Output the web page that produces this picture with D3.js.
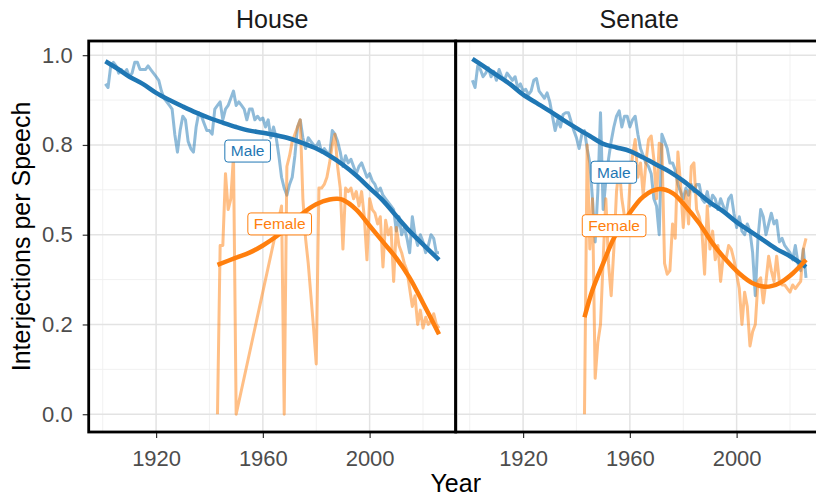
<!DOCTYPE html>
<html>
<head>
<meta charset="utf-8">
<script src="https://d3js.org/d3.v7.min.js"></script>
<style>
  body { margin: 0; background: #fff; }
  svg { display: block; font-family: 'Liberation Sans', Arial, sans-serif; }
</style>
</head>
<body>
<div id="viz"></div>
<script>
var chambers = ['House', 'Senate'];
var genders = ['Male', 'Female'];
var genderColors = ['#1f77b4', '#ff7f0e'];

var maleYears = d3.range(1901, 2027);
var houseFemaleYears = d3.range(1943, 1951).concat(d3.range(1967, 2027));
var senateFemaleYears = d3.range(1943, 2027);

var houseMale = [
  .92, .91, .97, .98, .97, .95, .96, .95, .96, .94,
  .95, .98, .98, .96, .96, .96, .97, .96, .95, .94,
  .93, .90, .88, .87, .86, .85, .78, .73, .79, .83,
  .82, .76, .74, .73, .80, .84, .83, .81, .79, .79,
  .78, .85, .86, .87, .82, .85, .86, .88, .90, .86,
  .87, .86, .85, .82, .85, .85, .82, .83, .82, .825,
  .80, .82, .77, .80, .77, .72, .66, .63, .61, .64,
  .66, .72, .80, .82, .77, .74, .77, .76, .75, .745,
  .76, .73, .74, .73, .72, .79, .78, .76, .73, .69,
  .72, .70, .71, .69, .67, .69, .70, .68, .66, .67,
  .65, .64, .62, .63, .61, .60, .59, .58, .57, .51,
  .55, .50, .52, .49, .45, .55, .50, .47, .50, .48,
  .45, .47, .50, .49, .45, .45
];

var houseFemale = [
  0, .47, .47, .67, .57, .60, .72, 0,
  .58, 0, .69, .72, .76, .78, .80, .82, .60, .49,
  .42, .33, .24, .14, .63, .63, .64, .66, .70, .75,
  .78, .69, .63, .46, .63, .62, .63, .60, .62, .58,
  .62, .55, .43, .60, .57, .56, .53, .55, .41, .54,
  .50, .52, .37, .52, .47, .45, .42, .40, .35, .30,
  .33, .25, .29, .24, .27, .25, .26, .28, .25, .24
];

var senateMale = [
  .93, .91, .97, .96, .94, .95, .965, .94, .955, .93,
  .96, .94, .93, .95, .94, .93, .94, .91, .92, .90,
  .905, .89, .90, .93, .935, .90, .89, .88, .895, .87,
  .83, .79, .82, .80, .835, .84, .84, .815, .79, .77,
  .74, .78, .79, .74, .70, .60, .48, .62, .84, .57,
  .65, .71, .76, .80, .83, .845, .80, .83, .83, .80,
  .82, .83, .78, .74, .72, .70, .69, .67, .60, .58,
  .50, .78, .76, .74, .70, .70, .68, .64, .62, .60,
  .63, .61, .64, .62, .64, .64, .60, .59, .62, .58,
  .61, .60, .57, .60, .58, .56, .60, .61, .56, .52,
  .55, .51, .50, .53, .51, .45, .33, .49, .57, .55,
  .50, .53, .56, .53, .54, .48, .49, .47, .46, .45,
  .43, .47, .42, .40, .46, .38
];

var senateFemale = [
  0, .75, .46, .60, .10, .20, .25, .43, .60, .42,
  .33, .46, .62, .69, .60, .55, .50, .64, .72, .765,
  .66, .70, .61, .70, .765, .775, .71, .60, .755, .75,
  .42, .39, .40, .53, .49, .73, .64, .52, .62, .53,
  .69, .70, .57, .55, .51, .39, .58, .46, .51, .43,
  .47, .37, .44, .43, .47, .46, .43, .39, .35, .25,
  .34, .30, .19, .23, .25, .37, .38, .31, .37, .44,
  .40, .37, .44, .37, .36, .36, .35, .34, .36, .35,
  .36, .37, .46, .49
];

var houseMaleSmoothYears = [1901, 1905, 1910, 1915, 1920, 1925, 1930, 1935, 1940, 1945, 1950, 1955, 1960,
  1965, 1970, 1975, 1980, 1985, 1990, 1995, 2000, 2005, 2010, 2015, 2020, 2026];
var houseMaleSmooth = [.983, .965, .94, .92, .895, .875, .857, .84, .825, .812, .80, .79, .784,
  .777, .768, .755, .74, .72, .695, .665, .63, .595, .552, .51, .473, .43];

var houseFemaleSmoothYears = [1943, 1950, 1955, 1960, 1965, 1970, 1975, 1980, 1985, 1988, 1990, 1995,
  2000, 2005, 2010, 2015, 2020, 2026];
var houseFemaleSmooth = [.416, .436, .45, .47, .495, .525, .56, .585, .598, .60, .597, .57,
  .525, .48, .435, .38, .31, .223];

var senateMaleSmoothYears = houseMaleSmoothYears;
var senateMaleSmooth = [.99, .97, .945, .92, .89, .867, .844, .82, .797, .775, .753, .743, .733,
  .715, .695, .675, .65, .62, .59, .565, .535, .51, .485, .46, .44, .41];

var senateFemaleSmoothYears = [1943, 1946, 1950, 1954, 1959, 1965, 1971, 1976, 1981, 1986, 1991, 1996,
  2001, 2006, 2011, 2016, 2021, 2026];
var senateFemaleSmooth = [.27, .346, .42, .49, .55, .606, .627, .616, .578, .532, .476, .43,
  .392, .365, .355, .365, .392, .43];

// where the Male / Female tags sit, in data units
var houseLabelYears = [1954.3, 1966.3];
var houseLabelValues = [.733, .53];
var senateLabelYears = [1954, 1954.1];
var senateLabelValues = [.674, .525];

var xTicks = [1920, 1960, 2000];
var xMinor = [1900, 1940, 1980, 2020];
var yTicks = [0, .25, .5, .75, 1];
var yTickLabels = ['0.0', '0.2', '0.5', '0.8', '1.0'];

var pair = function(xs, ys) { return xs.map(function(x, i) { return [x, ys[i]]; }); };

var panels = [
  { name: 'House',
    raw: [pair(maleYears, houseMale), pair(houseFemaleYears, houseFemale)],
    smooth: [pair(houseMaleSmoothYears, houseMaleSmooth), pair(houseFemaleSmoothYears, houseFemaleSmooth)],
    labels: pair(houseLabelYears, houseLabelValues) },
  { name: 'Senate',
    raw: [pair(maleYears, senateMale), pair(senateFemaleYears, senateFemale)],
    smooth: [pair(senateMaleSmoothYears, senateMaleSmooth), pair(senateFemaleSmoothYears, senateFemaleSmooth)],
    labels: pair(senateLabelYears, senateLabelValues) }
];

var width = 816, height = 498,
    panelLeft = 88.7, panelWidth = 367,
    panelTop = 41, panelBottom = 432;

var allYears = maleYears.concat(houseFemaleYears, senateFemaleYears);
var allVals = houseMale.concat(houseFemale, senateMale, senateFemale,
  houseMaleSmooth, houseFemaleSmooth, senateMaleSmooth, senateFemaleSmooth);

var xExt = d3.extent(allYears), xPad = (xExt[1] - xExt[0]) * 0.05;
var yExt = d3.extent(allVals), yPad = (yExt[1] - yExt[0]) * 0.05;

var xScale = d3.scaleLinear()
    .domain([xExt[0] - xPad, xExt[1] + xPad])
    .range([0, panelWidth]);

var yScale = d3.scaleLinear()
    .domain([yExt[0] - yPad, yExt[1] + yPad])
    .range([panelBottom, panelTop]);

var line = d3.line()
    .x(function(d) { return xScale(d[0]); })
    .y(function(d) { return yScale(d[1]); });

var smoothLine = d3.line()
    .x(function(d) { return xScale(d[0]); })
    .y(function(d) { return yScale(d[1]); })
    .curve(d3.curveCatmullRom.alpha(0.5));

var svg = d3.select('#viz').append('svg')
    .attr('width', width)
    .attr('height', height)
    .style('background', '#fff');

panels.forEach(function(p, pi) {
  var g = svg.append('g')
      .attr('transform', 'translate(' + (panelLeft + pi * panelWidth) + ',0)');

  // grid
  var minorY = d3.pairs(yTicks).map(function(t) { return (t[0] + t[1]) / 2; });
  g.selectAll('.gminx').data(xMinor).enter().append('line')
      .attr('x1', function(d) { return xScale(d); })
      .attr('x2', function(d) { return xScale(d); })
      .attr('y1', panelTop).attr('y2', panelBottom)
      .style('stroke', '#efefef').style('stroke-width', 0.9);
  g.selectAll('.gminy').data(minorY).enter().append('line')
      .attr('x1', 0).attr('x2', panelWidth)
      .attr('y1', function(d) { return yScale(d); })
      .attr('y2', function(d) { return yScale(d); })
      .style('stroke', '#efefef').style('stroke-width', 0.9);
  g.selectAll('.gmajx').data(xTicks).enter().append('line')
      .attr('x1', function(d) { return xScale(d); })
      .attr('x2', function(d) { return xScale(d); })
      .attr('y1', panelTop).attr('y2', panelBottom)
      .style('stroke', '#e3e3e3').style('stroke-width', 1.5);
  g.selectAll('.gmajy').data(yTicks).enter().append('line')
      .attr('x1', 0).attr('x2', panelWidth)
      .attr('y1', function(d) { return yScale(d); })
      .attr('y2', function(d) { return yScale(d); })
      .style('stroke', '#e3e3e3').style('stroke-width', 1.5);

  // yearly values
  p.raw.forEach(function(s, i) {
    g.append('path')
        .attr('d', line(s))
        .style('fill', 'none')
        .style('stroke', genderColors[i])
        .style('stroke-opacity', 0.5)
        .style('stroke-width', 3)
        .style('stroke-linejoin', 'round');
  });

  // smoothed trend
  p.smooth.forEach(function(s, i) {
    g.append('path')
        .attr('d', smoothLine(s))
        .style('fill', 'none')
        .style('stroke', genderColors[i])
        .style('stroke-width', 4.5);
  });

  // tags
  p.labels.forEach(function(d, i) {
    var lg = g.append('g')
        .attr('transform', 'translate(' + xScale(d[0]) + ',' + yScale(d[1]) + ')');
    var rect = lg.append('rect');
    var txt = lg.append('text')
        .attr('text-anchor', 'middle')
        .attr('dy', '0.35em')
        .style('font-size', '15.5px')
        .style('fill', genderColors[i])
        .text(genders[i]);
    var w = txt.node().getComputedTextLength() + 12;
    rect.attr('x', -w / 2).attr('y', -11)
        .attr('width', w).attr('height', 22)
        .attr('rx', 3)
        .style('fill', '#fff')
        .style('stroke', genderColors[i])
        .style('stroke-width', 1);
  });

  // axes
  var xAxis = g.append('g')
      .attr('transform', 'translate(0,' + panelBottom + ')')
      .call(d3.axisBottom(xScale).tickValues(xTicks).tickFormat(d3.format('d'))
        .tickSize(6).tickPadding(12.5));
  xAxis.select('.domain').remove();
  xAxis.selectAll('line').style('stroke', '#333').style('stroke-width', 1.2);
  xAxis.selectAll('text').style('font-size', '22px').style('fill', '#4d4d4d');

  if (pi === 0) {
    var yAxis = g.append('g')
        .call(d3.axisLeft(yScale).tickValues(yTicks)
          .tickFormat(function(d, i) { return yTickLabels[i]; })
          .tickSize(6).tickPadding(10));
    yAxis.select('.domain').remove();
    yAxis.selectAll('line').style('stroke', '#333').style('stroke-width', 1.2);
    yAxis.selectAll('text').style('font-size', '22px').style('fill', '#4d4d4d');
  }

  // border
  g.append('rect')
      .attr('x', 0).attr('y', panelTop)
      .attr('width', panelWidth).attr('height', panelBottom - panelTop)
      .style('fill', 'none')
      .style('stroke', '#000')
      .style('stroke-width', 2.8);

  // strip title
  g.append('text')
      .attr('x', panelWidth / 2)
      .attr('y', 28)
      .attr('text-anchor', 'middle')
      .style('font-size', '25px')
      .style('fill', '#1a1a1a')
      .text(p.name);
});

svg.append('text')
    .attr('x', panelLeft + panelWidth)
    .attr('y', 492)
    .attr('text-anchor', 'middle')
    .style('font-size', '25px')
    .style('fill', '#000')
    .text('Year');

svg.append('text')
    .attr('transform', 'translate(29.5,' + (panelTop + panelBottom) / 2 + ') rotate(-90)')
    .attr('text-anchor', 'middle')
    .style('font-size', '25px')
    .style('fill', '#000')
    .text('Interjections per Speech');
</script>
</body>
</html>
